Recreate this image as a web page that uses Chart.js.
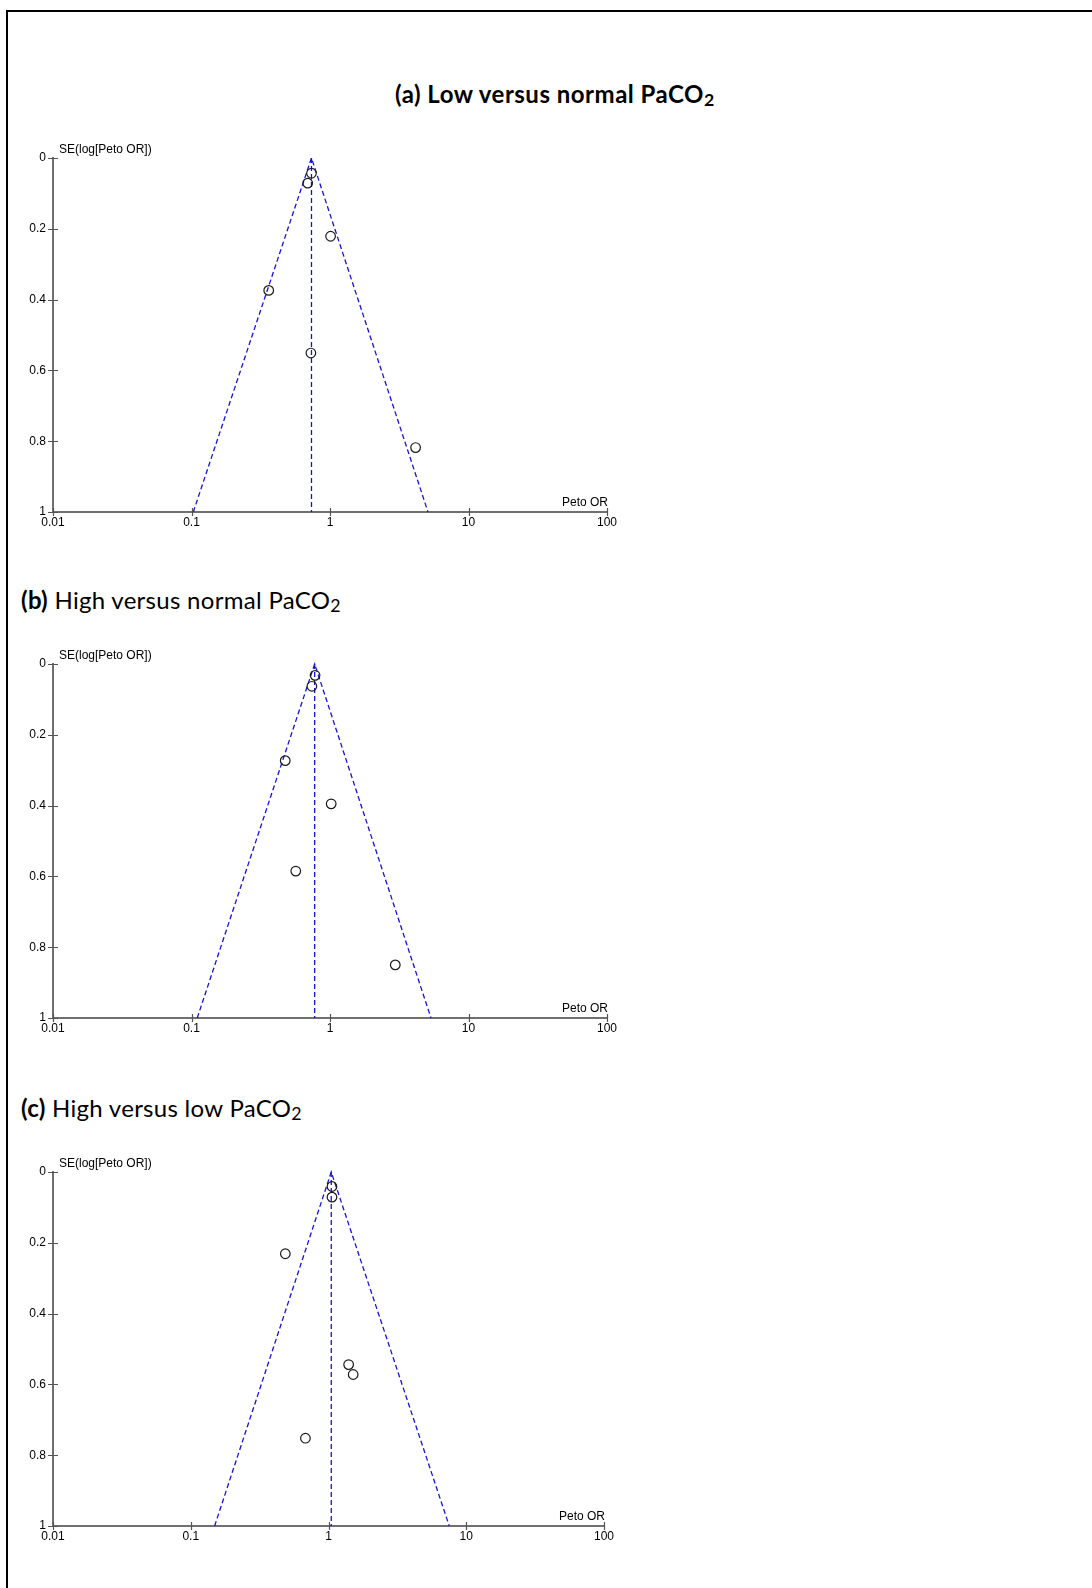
<!DOCTYPE html>
<html>
<head>
<meta charset="utf-8">
<script src="https://cdn.jsdelivr.net/npm/chart.js@4.4.1/dist/chart.umd.min.js"></script>
<style>
  html, body { margin: 0; padding: 0; background: #fff; }
  body { width: 1092px; height: 1588px; position: relative; overflow: hidden; }
  .frame { position: absolute; left: 6px; top: 10px; right: 0; bottom: 0; border-left: 2px solid #000; border-top: 2px solid #000; }
  .title { position: absolute; font-family: Lato, "Open Sans", sans-serif; font-size: 24px; line-height: 24px; letter-spacing: 0.3px; color: #000; white-space: nowrap; }
  .title sub { font-size: 0.74em; vertical-align: baseline; position: relative; top: 0.16em; line-height: 0; }
  .plot { position: absolute; left: 0; }
</style>
</head>
<body>
<div class="frame"></div>
<div class="title" style="left:395px;top:82px;font-weight:700;letter-spacing:0.5px">(a) Low versus normal PaCO<sub>2</sub></div>
<div class="title" style="left:21px;top:588px"><b>(b)</b> High versus normal PaCO<sub>2</sub></div>
<div class="title" style="left:21px;top:1096px"><b>(c)</b> High versus low PaCO<sub>2</sub></div>
<canvas id="chartA" class="plot"></canvas>
<canvas id="chartB" class="plot"></canvas>
<canvas id="chartC" class="plot"></canvas>
<script>
// axis ticks
const xTickValues = [0.01, 0.1, 1, 10, 100];
const xTickLabels = ['0.01', '0.1', '1', '10', '100'];
const yTickValues = [0, 0.2, 0.4, 0.6, 0.8, 1];
const yTickLabels = ['0', '0.2', '0.4', '0.6', '0.8', '1'];

// (a) low vs normal
const orA = [0.735, 0.69, 1.01, 0.361, 0.728, 4.15];
const seA = [0.043, 0.071, 0.221, 0.374, 0.551, 0.818];
const pooledA = 0.735;
const funnelA = [0.103, 5.1];   // OR at SE = 1, left / right

// (b) high vs normal
const orB = [0.78, 0.74, 0.475, 1.02, 0.566, 2.96];
const seB = [0.032, 0.063, 0.273, 0.395, 0.585, 0.85];
const pooledB = 0.775;
const funnelB = [0.11, 5.36];

// (c) high vs low
const orC = [1.06, 1.06, 0.486, 1.4, 1.51, 0.68];
const seC = [0.041, 0.071, 0.231, 0.544, 0.572, 0.752];
const pooledC = 1.047;
const funnelC = [0.149, 7.53];

const blue = '#1414d4';
const axisGrey = '#707070';
const tickFont = { family: '"Liberation Sans", Arial, sans-serif', size: 12 };

const decor = {
  id: 'decor',
  afterDraw(chart) {
    const { ctx, chartArea, scales } = chart;
    const x = scales.x, y = scales.y;
    ctx.save();
    ctx.strokeStyle = '#555';
    ctx.lineWidth = 1.2;
    ctx.beginPath();
    yTickValues.forEach(v => {
      const py = Math.round(y.getPixelForValue(v)) + 0.5;
      ctx.moveTo(chartArea.left - 5, py);
      ctx.lineTo(chartArea.left + 5, py);
    });
    xTickValues.forEach(v => {
      const px = Math.round(x.getPixelForValue(v)) + 0.5;
      ctx.moveTo(px, chartArea.bottom - 4);
      ctx.lineTo(px, chartArea.bottom + 4);
    });
    ctx.stroke();
    ctx.fillStyle = '#000';
    ctx.font = '12px "Liberation Sans", Arial, sans-serif';
    ctx.textBaseline = 'middle';
    ctx.textAlign = 'left';
    ctx.fillText('SE(log[Peto OR])', chartArea.left + 6, chartArea.top - 8);
    ctx.textAlign = 'right';
    ctx.fillText('Peto OR', chartArea.right + 1, chartArea.bottom - 9);
    ctx.restore();
  }
};

function makeFunnel(id, top, right, ors, ses, pooled, funnel) {
  const canvas = document.getElementById(id);
  const padTop = 40, plotH = 354, xH = 30, width = 660;
  canvas.style.top = (top - padTop) + 'px';
  canvas.style.width = width + 'px';
  canvas.style.height = (padTop + plotH + xH) + 'px';
  canvas.width = width;
  canvas.height = padTop + plotH + xH;

  new Chart(canvas, {
    type: 'scatter',
    data: {
      datasets: [
        {
          data: ors.map((v, i) => ({ x: v, y: ses[i] })),
          pointStyle: 'circle',
          pointRadius: 4.8,
          pointBorderWidth: 1.2,
          pointBorderColor: '#1a1a1a',
          pointBackgroundColor: 'rgba(0,0,0,0)',
          showLine: false,
          order: 0
        },
        {
          data: [{ x: funnel[0], y: 1 }, { x: pooled, y: 0 }, { x: funnel[1], y: 1 }],
          showLine: true,
          borderColor: blue,
          borderWidth: 1.3,
          borderDash: [5, 3],
          pointRadius: 0,
          tension: 0,
          order: 1
        },
        {
          data: [{ x: pooled, y: 0 }, { x: pooled, y: 1 }],
          showLine: true,
          borderColor: blue,
          borderWidth: 1.3,
          borderDash: [5, 3],
          pointRadius: 0,
          order: 2
        }
      ]
    },
    options: {
      responsive: false,
      animation: false,
      clip: false,
      layout: { padding: { top: padTop, right: width - right, left: 0, bottom: 0 } },
      plugins: { legend: { display: false }, tooltip: { enabled: false } },
      scales: {
        x: {
          type: 'logarithmic',
          min: 0.01,
          max: 100,
          afterBuildTicks: s => { s.ticks = xTickValues.map(v => ({ value: v })); },
          afterFit: s => { s.height = xH; },
          grid: { drawOnChartArea: false, drawTicks: false },
          border: { display: true, color: axisGrey, width: 2 },
          ticks: {
            autoSkip: false,
            maxRotation: 0,
            padding: 3,
            color: '#000',
            font: tickFont,
            callback: (v) => xTickLabels[xTickValues.indexOf(v)]
          }
        },
        y: {
          type: 'linear',
          min: 0,
          max: 1,
          reverse: true,
          afterBuildTicks: s => { s.ticks = yTickValues.map(v => ({ value: v })); },
          afterFit: s => { s.width = 53; },
          grid: { drawOnChartArea: false, drawTicks: false },
          border: { display: true, color: axisGrey, width: 2 },
          ticks: {
            padding: 7,
            color: '#000',
            font: tickFont,
            callback: (v) => yTickLabels[yTickValues.indexOf(v)]
          }
        }
      }
    },
    plugins: [decor]
  });
}

makeFunnel('chartA', 158, 607, orA, seA, pooledA, funnelA);
makeFunnel('chartB', 664, 607, orB, seB, pooledB, funnelB);
makeFunnel('chartC', 1172, 604, orC, seC, pooledC, funnelC);
</script>
</body>
</html>
